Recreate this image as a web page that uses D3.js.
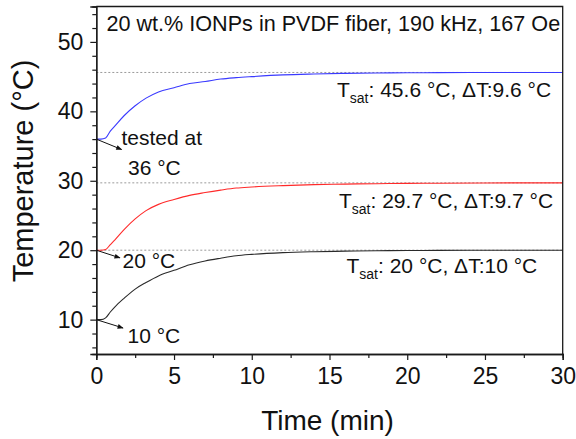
<!DOCTYPE html>
<html>
<head>
<meta charset="utf-8">
<script src="https://cdn.jsdelivr.net/npm/d3@7"></script>
<style>
  html, body { margin: 0; padding: 0; background: #fff; }
  svg { display: block; font-family: Arial, "Liberation Sans", sans-serif; }
</style>
</head>
<body>
<svg id="chart" width="576" height="439"></svg>
<script>
// Heating curves of IONP/PVDF fibre at three starting temperatures
const time = [0, 0.3, 0.6, 0.9, 1.2, 1.8, 2.5, 3.2, 4, 5, 6, 7, 8, 9, 10, 12, 14, 16, 18, 20, 22, 25, 28, 30];
const tempFrom36 = [36.0, 36.0, 36.15, 37.15, 37.9, 39.4, 40.8, 41.9, 42.8, 43.4, 44.0, 44.3, 44.65, 44.85, 45.0, 45.25, 45.38, 45.47, 45.52, 45.55, 45.57, 45.6, 45.6, 45.6];
const tempFrom20 = [20.0, 20.0, 20.1, 20.8, 21.5, 23.0, 24.5, 25.7, 26.6, 27.3, 27.9, 28.3, 28.65, 28.95, 29.1, 29.3, 29.45, 29.52, 29.58, 29.62, 29.65, 29.68, 29.7, 29.7];
const tempFrom10 = [10.0, 10.0, 10.25, 11.1, 11.85, 13.1, 14.4, 15.35, 16.3, 17.1, 17.9, 18.45, 18.85, 19.2, 19.4, 19.65, 19.78, 19.86, 19.92, 19.95, 19.97, 20.0, 20.0, 20.0];

const seriesNames = ["36 °C", "20 °C", "10 °C"];
const seriesColors = ["#3a3aff", "#ff2a2a", "#2a2a2a"];
const saturation = [45.6, 29.7, 20];
const startTemps = [36, 20, 10];
const deltaT = ["9.6", "9.7", "10"];
const saturationText = ["45.6", "29.7", "20"];

const xTicks = [0, 5, 10, 15, 20, 25, 30];
const yTicks = [10, 20, 30, 40, 50];

const svg = d3.select("#chart");
const plotLeft = 96.3, plotRight = 562.7, plotTop = 6.5, plotBottom = 354;

const x = d3.scaleLinear().domain([0, 30]).range([plotLeft, plotRight]);
const y = d3.scaleLinear().domain([5.05, 55.1]).range([plotBottom, plotTop]);

// Saturation reference lines
svg.append("g").selectAll("line").data(saturation).join("line")
  .attr("x1", x(0)).attr("x2", x(30))
  .attr("y1", d => y(d)).attr("y2", d => y(d))
  .attr("stroke", "#9a9a9a").attr("stroke-width", 1)
  .attr("stroke-dasharray", "2,2");

// Curves
const series = [tempFrom36, tempFrom20, tempFrom10];
const line = d3.line()
  .x((d, i) => x(time[i]))
  .y(d => y(d))
  .curve(d3.curveMonotoneX);
svg.append("g").selectAll("path").data(series).join("path")
  .attr("d", d => line(d))
  .attr("fill", "none")
  .attr("stroke", (d, i) => seriesColors[i])
  .attr("stroke-width", 1.1);

// Axes
const xAxis = d3.axisBottom(x).tickValues(xTicks).tickSize(6).tickPadding(8).tickFormat(d3.format("d"));
const xMinor = d3.axisBottom(x).tickValues(d3.range(2.5, 30, 5)).tickSize(4).tickFormat("");
const yAxis = d3.axisLeft(y).tickValues(yTicks).tickSize(6).tickPadding(7).tickFormat(d3.format("d"));
const yMinor = d3.axisLeft(y).tickValues([6, 8, 12, 14, 16, 18, 22, 24, 26, 28, 32, 34, 36, 38, 42, 44, 46, 48, 52, 54]).tickSize(4).tickFormat("");

function styleAxis(g) {
  g.select(".domain").attr("stroke", "#1a1a1a").attr("stroke-width", 1.3);
  g.selectAll(".tick line").attr("stroke", "#1a1a1a").attr("stroke-width", 1.2);
  g.selectAll(".tick text").attr("fill", "#111").style("font-size", "23px")
    .style("font-family", "Arial, 'Liberation Sans', sans-serif");
}

svg.append("g").attr("transform", `translate(0,${plotBottom})`).call(xMinor).call(styleAxis);
svg.append("g").attr("transform", `translate(0,${plotBottom})`).call(xAxis).call(styleAxis);
svg.append("g").attr("transform", `translate(${plotLeft},0)`).call(yMinor).call(styleAxis);
svg.append("g").attr("transform", `translate(${plotLeft},0)`).call(yAxis).call(styleAxis);

// Frame top/right
svg.append("path")
  .attr("d", `M${plotLeft},${plotTop}H${plotRight}V${plotBottom}`)
  .attr("fill", "none").attr("stroke", "#1a1a1a").attr("stroke-width", 1.3);

// Axis titles
svg.append("text")
  .attr("x", (plotLeft + plotRight) / 2 - 2).attr("y", 430)
  .attr("text-anchor", "middle").style("font-size", "28px").attr("fill", "#111")
  .text("Time (min)");
svg.append("text")
  .attr("transform", "translate(33,171) rotate(-90)")
  .attr("text-anchor", "middle").style("font-size", "29px").attr("fill", "#111")
  .text("Temperature (°C)");

// Title
svg.append("text")
  .attr("x", 106.5).attr("y", 31)
  .style("font-size", "21.6px").attr("fill", "#111")
  .text("20 wt.% IONPs in PVDF fiber, 190 kHz, 167 Oe");

// Arrow markers
svg.append("defs").append("marker")
  .attr("id", "arr").attr("viewBox", "0 0 10 10")
  .attr("refX", 9).attr("refY", 5)
  .attr("markerWidth", 7).attr("markerHeight", 6)
  .attr("markerUnits", "userSpaceOnUse")
  .attr("orient", "auto")
  .append("path").attr("d", "M0,1L10,5L0,9Z").attr("fill", "#111");

const arrowEnds = [[1.63, 34.5], [1.52, 18.9], [1.72, 8.8]];
svg.append("g").selectAll("line").data(arrowEnds).join("line")
  .attr("x1", x(0)).attr("y1", (d, i) => y(startTemps[i]))
  .attr("x2", d => x(d[0])).attr("y2", d => y(d[1]))
  .attr("stroke", "#111").attr("stroke-width", 1)
  .attr("marker-end", "url(#arr)");

// Start temperature notes
const notes = svg.append("g").style("font-size", "21px").attr("fill", "#111");
notes.append("text").attr("x", 121.5).attr("y", 145).text("tested at");
notes.append("text").attr("x", 128).attr("y", 175).text(seriesNames[0]);
notes.append("text").attr("x", 122.5).attr("y", 267.5).text(seriesNames[1]);
notes.append("text").attr("x", 127.5).attr("y", 343).text(seriesNames[2]);

// Saturation labels
const satPos = [[337, 96.7], [339, 208.3], [346.5, 273.3]];
satPos.forEach((p, i) => {
  const t = svg.append("text").attr("x", p[0]).attr("y", p[1])
    .style("font-size", "21px").attr("fill", "#111");
  t.append("tspan").text("T");
  t.append("tspan").attr("dy", 6).style("font-size", "14px").text("sat");
  t.append("tspan").attr("dy", -6).text(`: ${saturationText[i]} °C, ΔT:${deltaT[i]} °C`);
});
</script>
</body>
</html>
